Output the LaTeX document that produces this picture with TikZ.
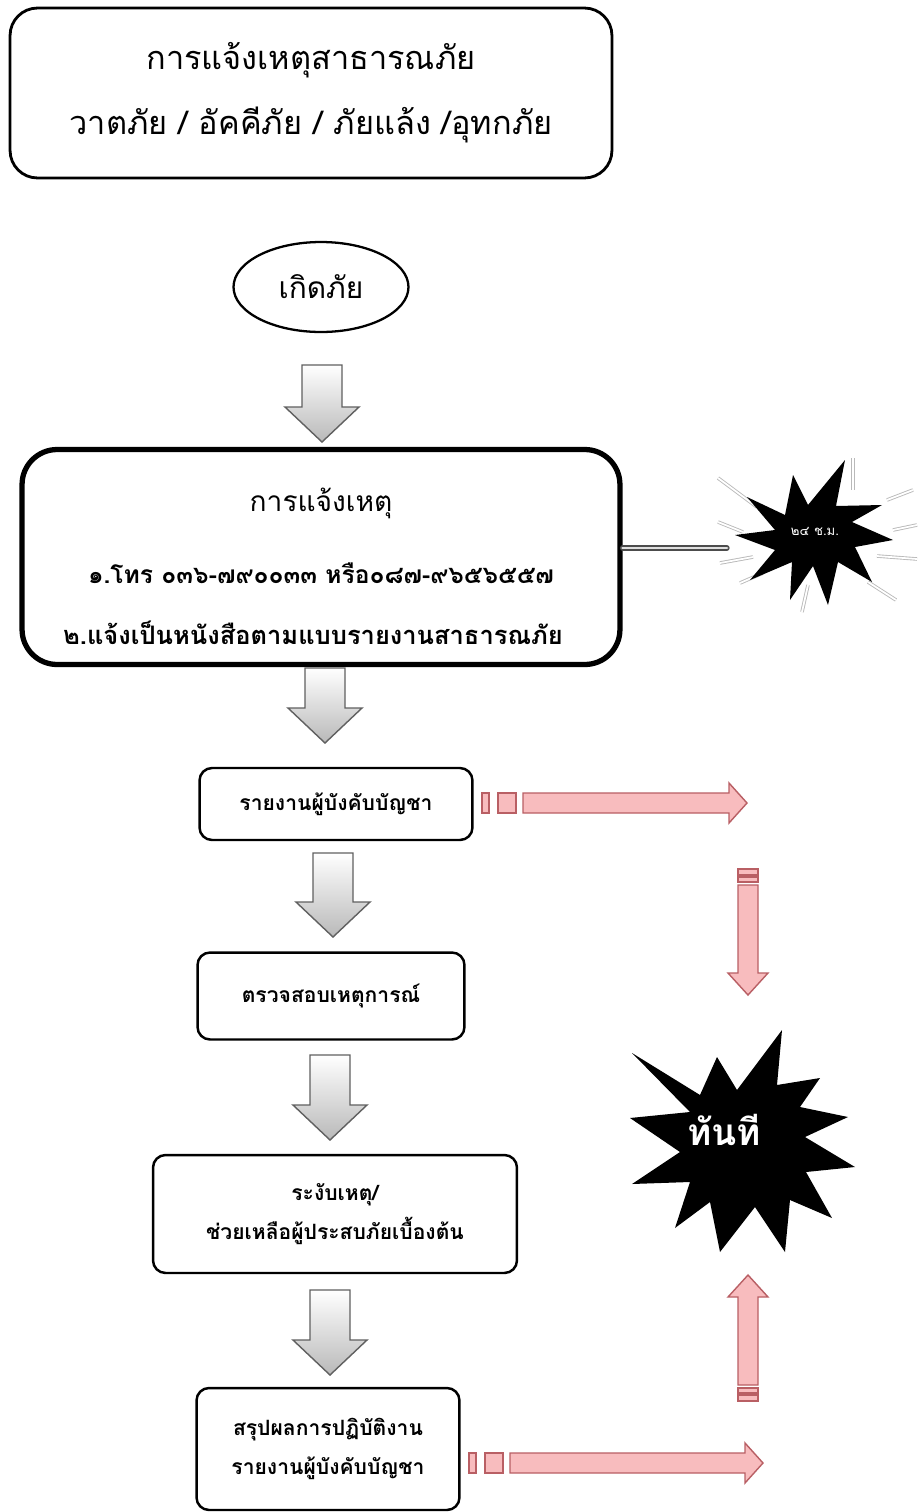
\documentclass[tikz,border=0pt]{standalone}
\usepackage{fontspec}
\newfontfamily\thai[Script=Thai]{Loma}
\usetikzlibrary{shapes.geometric}
\definecolor{pinkedge}{RGB}{185,95,100}
\definecolor{pinkfill}{RGB}{248,188,190}

\tikzset{
  bigbox/.style={draw, rounded corners=0.55cm, line width=1.6pt, align=center, inner sep=0pt},
  stepbox/.style={draw, rounded corners=0.25cm, line width=1.4pt, align=center, inner sep=0pt, font=\thai\bfseries\fontsize{12}{22.5}\selectfont},
  greyarrow/.style={draw=gray!75!black, line width=0.8pt, top color=white, bottom color=gray!55},
  pinkarrow/.style={draw=pinkedge, line width=0.8pt, fill=pinkfill},
  hollowline/.style={draw=gray!60!black, double=gray!25, double distance=1.6pt, line width=0.7pt, line cap=round},
  ray/.style={gray!55, double=white, double distance=1pt, line width=0.5pt},
  burstlabel/.style={text=white, inner sep=0pt}
}

% grey block arrow pointing down: x, top y, tip y
\newcommand{\downblock}[3]{%
  \draw[greyarrow] ({#1-20},#2) -- ({#1+20},#2) -- ({#1+20},{#3-35}) -- ({#1+37},{#3-35})
    -- (#1,#3) -- ({#1-37},{#3-35}) -- ({#1-20},{#3-35}) -- cycle;}

% pink arrow pointing right: shaft start x, tip x, y
\newcommand{\pinkright}[3]{%
  \draw[pinkarrow] ({#1-41},{#3-10}) rectangle ({#1-34},{#3+10});
  \draw[pinkarrow] ({#1-25},{#3-10}) rectangle ({#1-7},{#3+10});
  \draw[pinkarrow] (#1,{#3-10}) -- ({#2-18},{#3-10}) -- ({#2-18},{#3-20}) -- (#2,#3)
    -- ({#2-18},{#3+20}) -- ({#2-18},{#3+10}) -- (#1,{#3+10}) -- cycle;}

% pink arrow up or down: x, tail y, tip y
\newcommand{\pinkvert}[3]{%
  \pgfmathsetmacro\dirsign{(#3>#2) ? 1 : -1}
  \pgfmathsetmacro\headbase{#3-22*\dirsign}
  \draw[pinkarrow] ({#1-10},#2) -- ({#1-10},\headbase) -- ({#1-20},\headbase) -- (#1,#3)
    -- ({#1+20},\headbase) -- ({#1+10},\headbase) -- ({#1+10},#2) -- cycle;
  \draw[pinkarrow] ({#1-10},{#2-16*\dirsign}) rectangle ({#1+10},{#2-10*\dirsign});
  \draw[pinkarrow] ({#1-10},{#2-8*\dirsign}) rectangle ({#1+10},{#2-3*\dirsign});}

\begin{document}
\begin{tikzpicture}[x=0.02cm, y=-0.02cm]
  \useasboundingbox[fill=white] (0,0) rectangle (917,1512);

  % Заголовок
  \node[bigbox, minimum width=12.04cm, minimum height=3.4cm, font=\thai\fontsize{18.5}{37}\selectfont] (title) at (311,93)
    {การแจ้งเหตุสาธารณภัย\\วาตภัย / อัคคีภัย / ภัยแล้ง /อุทกภัย};

  % Начало
  \node[ellipse, draw, line width=1.3pt, minimum width=3.5cm, minimum height=1.8cm, font=\thai\fontsize{17}{20}\selectfont] (start) at (321,287) {เกิดภัย};
  \downblock{322}{365}{442}

  % Сообщение
  \node[bigbox, rounded corners=0.7cm, line width=3pt, minimum width=11.96cm, minimum height=4.3cm] (notify) at (321,557) {};
  \node[font=\thai\fontsize{16}{18}\selectfont] (notifyhead) at (321,503) {การแจ้งเหตุ};
  \node[font=\thai\bfseries\fontsize{14}{16}\selectfont] (notifyphone) at (321,573) {๑.โทร ๐๓๖-๗๙๐๐๓๓ หรือ๐๘๗-๙๖๕๖๕๕๗};
  \node[font=\thai\bfseries\fontsize{14.5}{16}\selectfont] (notifyletter) at (313,633) {๒.แจ้งเป็นหนังสือตามแบบรายงานสาธารณภัย};
  \coordinate (tip24) at (727,548);
  \draw[hollowline] (notify.east |- tip24) -- (tip24);

  % 24 часа
  \foreach \ax/\ay/\bx/\by in {718/478/757/507, 718/522/743/532, 720/563/753/557, 740/583/763/573, 802/612/808/585,
                               853/458/853/490, 887/500/913/490, 893/530/917/525, 877/556/917/559, 868/582/896/600}
    \draw[ray] (\ax,\ay) -- (\bx,\by);
  \fill[black] plot coordinates {(747,497) (785,515) (793,475) (808,505) (845,460) (836,506) (882,505) (852,522)
    (893,540) (855,547) (872,582) (838,562) (828,605) (813,566) (790,600) (792,562) (750,580) (775,550) (735,535) (775,530)} -- cycle;
  \node[burstlabel, font=\thai\fontsize{7.5}{9}\selectfont] (day) at (815,531) {๒๔ ช.ม.};

  \downblock{325}{668}{743}

  % Шаги
  \node[stepbox, minimum width=5.46cm, minimum height=1.44cm] (report) at (336,804) {รายงานผู้บังคับบัญชา};
  \pinkright{523}{747}{803}
  \pinkvert{748}{885}{995}

  \downblock{333}{853}{937}
  \node[stepbox, minimum width=5.34cm, minimum height=1.74cm] (check) at (331,996) {ตรวจสอบเหตุการณ์};

  \downblock{330}{1055}{1140}
  \node[stepbox, minimum width=7.28cm, minimum height=2.36cm] (relief) at (335,1214)
    {ระงับเหตุ/\\ช่วยเหลือผู้ประสบภัยเบื้องต้น};

  \downblock{330}{1290}{1375}
  \node[stepbox, minimum width=5.26cm, minimum height=2.44cm] (summary) at (328,1449)
    {สรุปผลการปฏิบัติงาน\\รายงานผู้บังคับบัญชา};
  \pinkright{510}{763}{1463}
  \pinkvert{748}{1385}{1275}

  % Немедленно
  \fill[black] plot coordinates {(632,1053) (700,1095) (717,1057) (737,1090) (782,1030) (777,1085) (820,1078) (800,1107)
    (848,1117) (805,1137) (855,1167) (806,1172) (832,1218) (790,1200) (785,1252) (755,1207) (720,1252) (710,1202)
    (675,1228) (690,1182) (632,1184) (680,1152) (630,1118) (690,1112)} -- cycle;
  \node[burstlabel, font=\thai\bfseries\fontsize{21}{24}\selectfont] (now) at (724,1130) {ทันที};
\end{tikzpicture}
\end{document}
